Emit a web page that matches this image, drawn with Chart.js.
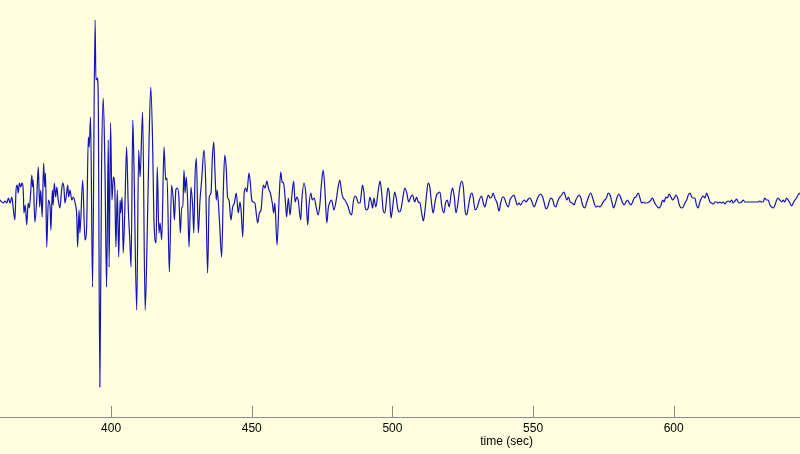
<!DOCTYPE html>
<html><head><meta charset="utf-8">
<script src="https://cdn.jsdelivr.net/npm/chart.js@4/dist/chart.umd.min.js"></script>
<style>html,body{margin:0;padding:0;background:#FFFFE0;}canvas{display:block}</style>
</head><body>
<canvas id="c" width="800" height="454"></canvas>
<script>
// [time (sec), amplitude]
const preEvent = [[360.5,0],[361.1,-2],[361.7,-3],[362.3,-1],[362.9,-3],[363.5,2],[364.1,-3],[364.7,3],[365.2,-8],[365.8,-20],[366.2,10],[366.6,15],[367.0,7],[367.4,17],[367.9,13],[368.3,17],[368.8,7],[369.0,-13],[369.5,-5],[370.0,-25],[370.5,-3],[370.9,-8],[371.4,7],[371.8,25],[372.1,13],[372.3,20],[372.9,-22],[373.5,-3],[374.1,33],[374.6,-7],[375.0,10],[375.5,-17],[376.0,37],[376.4,13],[376.7,27],[377.1,-47],[377.7,0],[378.3,-7],[378.6,-30],[379.1,10],[379.4,-5],[379.8,17],[380.3,3],[380.7,13],[381.2,0],[381.8,-8],[382.4,10],[382.8,17],[383.2,13],[383.6,-3],[384.2,7],[384.6,15],[384.9,3],[385.4,10],[386.0,0],[386.6,3],[387.2,-3],[387.8,-17],[388.1,-47],[388.6,-10]];
const mainShock = [[388.9,-33],[389.9,20],[390.7,-40],[391.3,-27],[391.9,63],[392.2,53],[392.7,83],[393.4,-87],[394.3,180],[394.6,120],[395.1,122],[395.4,107],[396.0,-187],[396.6,30],[397.2,102],[397.8,33],[398.4,-87],[399.0,60],[399.3,-67],[399.8,77],[400.3,0],[400.8,23],[401.3,13],[401.7,-47],[402.2,10],[402.7,-57],[403.2,0],[403.4,-13],[403.9,3],[404.3,-53],[404.9,-7],[405.5,53],[406.1,-7],[406.7,-43],[407.1,-67],[407.7,80],[408.1,37],[409.1,-110],[409.8,50],[410.3,23],[411.2,88],[412.1,-110],[412.6,-67],[413.5,60],[414.1,113],[414.8,50],[415.2,-17],[416.0,-43],[416.4,33]];
const earlyCoda = [[417.0,-33],[417.4,-23],[418.0,-40],[418.8,53],[419.4,20],[419.9,22],[420.7,-72],[421.5,15],[422.1,0],[422.5,-20],[423.0,10],[423.5,12],[424.1,3],[424.6,-33],[425.1,-7],[425.5,-7],[425.9,30],[426.3,7],[426.7,23],[427.2,0],[427.7,-47],[428.4,13],[429.0,-7],[429.4,-33],[429.8,20],[430.3,42],[431.0,-33],[431.6,0],[432.2,20],[433.0,50],[433.6,20],[434.3,-73],[434.9,3],[435.5,7],[436.0,43],[436.5,58],[436.9,30],[437.4,0],[437.7,10],[438.5,-20],[439.3,-57],[439.9,10],[440.4,45],[440.9,33],[441.4,3],[441.9,0],[442.6,-20],[443.2,-7],[443.8,-3],[444.5,7]];
const midCoda = [[445.2,-13],[445.8,-2],[446.2,-10],[446.8,-37],[447.3,7],[447.8,12],[448.3,8],[449.0,27],[449.5,17],[450.0,0],[450.5,-2],[451.1,-3],[452.1,-23],[452.7,-13],[453.3,-10],[454.1,15],[454.7,12],[455.4,19],[455.9,12],[456.6,7],[457.3,-3],[457.8,-13],[458.2,-3],[459.0,-45],[459.7,0],[460.3,28],[460.8,18],[461.3,17],[462.1,-7],[462.4,-17],[463.0,2],[463.6,-15],[464.2,3],[464.9,19],[465.4,-2],[466.0,3],[466.5,0],[467.4,-20],[467.8,0],[468.6,17],[469.2,7],[469.9,-25],[470.3,-7],[471.0,7],[471.5,0],[472.2,2],[472.9,-7],[473.6,-15],[474.2,-5],[474.8,17],[475.4,30],[476.0,10],[476.7,-23],[477.2,-8]];
const lateCoda = [[477.8,-2],[478.4,0],[479.2,-10],[480.2,3],[480.7,13],[481.3,20],[482.0,7],[482.5,2],[483.1,0],[483.7,-3],[484.3,-7],[484.9,-13],[485.5,-15],[486.1,-2],[486.7,4],[487.3,2],[487.9,-3],[488.5,-3],[489.1,10],[489.4,15],[489.9,7],[490.3,-7],[490.8,-10],[491.4,-8],[492.0,3],[492.5,-2],[493.0,-8],[493.4,2],[494.1,-7],[495.0,10],[495.6,19],[496.2,7],[496.7,-10],[497.3,-13],[498.0,3],[498.4,12],[498.9,7],[499.5,-18],[500.1,-7],[500.8,8],[501.3,3],[502.0,-10],[502.4,-12],[503.0,-10],[503.6,0],[504.4,12],[505.1,7],[505.8,-2],[506.5,3],[507.2,5],[507.9,-2],[508.6,3],[509.2,-2],[509.8,-3],[510.4,-13],[511.0,-21],[511.6,-10],[512.2,7],[512.7,17],[513.3,13],[513.9,-3],[514.5,-13],[515.1,-3],[515.7,5],[516.3,7],[516.9,8],[517.6,-7],[518.3,-13],[518.9,-3],[519.5,0],[520.2,-7],[520.9,7],[521.4,12],[522.0,3],[522.6,-13],[523.2,-5],[524.0,13],[524.7,19],[525.2,13],[525.9,-12],[526.4,-15],[527.0,-7],[527.6,3],[528.2,7],[528.7,3],[529.4,-10],[530.2,-7],[530.9,0]];
const tailA = [[531.7,4],[532.3,-3],[532.9,-7],[533.5,0],[534.1,5],[534.7,2],[535.3,3],[535.8,7],[536.4,2],[537.2,-3],[537.9,-11],[538.5,-3],[539.2,3],[539.8,2],[540.4,-3],[541.2,-7],[541.8,0],[542.4,3],[543.2,5],[543.8,0],[544.4,-5],[545.0,-3],[545.6,-5],[546.2,-2],[546.9,0],[547.5,-2],[548.3,1],[548.9,2],[549.5,-1],[550.4,-7],[551.0,-3],[551.8,3],[552.7,6],[553.4,3],[554.0,-3],[554.6,-9],[555.2,-7],[555.7,-2],[556.3,2],[557.0,0],[557.5,-5],[558.1,-7],[558.7,-2],[559.3,2],[560.2,5],[560.9,8],[561.4,5],[562.0,0],[562.6,3],[563.2,-2],[563.9,-3],[564.6,-5],[565.2,0],[565.8,3],[566.4,5],[567.0,2],[567.6,-5],[568.4,-8],[569.0,-3],[569.6,2],[570.5,7],[571.2,2],[571.7,-3],[572.3,-7],[573.2,-6],[573.8,-7],[574.4,-5],[574.9,-2],[575.5,0],[576.1,2],[576.7,7],[577.4,5],[578.1,-3],[578.6,-8],[579.1,-5],[579.8,2],[580.5,6],[581.1,3],[581.7,-2],[582.4,-5],[583.0,-2],[583.6,0],[584.2,-3],[584.8,-5],[585.4,-2],[586.0,2],[586.6,3],[587.4,7]];
const tailB = [[588.0,2],[588.6,-3],[589.2,-2],[589.8,-3],[590.5,-3],[591.2,-2],[591.9,0],[592.5,2],[593.1,-2],[593.7,-5],[594.3,-7],[594.8,-8],[595.5,-5],[596.1,0],[596.6,-2],[597.2,3],[597.8,2],[598.4,6],[599.0,3],[599.6,0],[600.2,2],[600.8,5],[601.4,2],[602.0,-5],[602.8,-8],[603.4,-7],[604.0,-3],[604.6,0],[605.2,5],[605.8,7],[606.4,3],[606.9,2],[607.5,2],[608.1,-5],[608.7,-8],[609.3,-2],[609.9,2],[610.5,4],[611.1,2],[611.7,7],[612.3,3],[612.9,-2],[613.5,-3],[614.2,-4],[614.6,-2],[615.2,-2],[615.8,-3],[616.4,-2],[617.0,-3],[617.6,-2],[618.2,-4],[618.8,-2],[619.4,-1],[620.0,-2],[620.6,0],[621.1,-3],[621.8,-1],[622.4,1],[622.9,-2],[623.5,-3],[624.1,-2],[624.7,0],[625.3,-2],[625.9,-2],[626.5,-2],[627.7,-2],[628.9,-2],[630.0,-2],[630.6,-1],[631.2,-2],[631.8,-2],[632.4,2],[633.0,0],[633.6,0],[634.2,-5],[634.8,-7],[635.4,-8],[636.0,-5],[636.6,0],[637.1,2],[637.7,0],[638.4,-2],[638.9,0],[639.5,-2],[640.1,2],[640.7,0],[641.3,-3],[641.9,-6],[642.5,-3],[643.1,0],[643.7,2],[644.2,5],[644.9,7]];

const tickValues = [400, 450, 500, 550, 600];
const xLimits = [360.5, 644.9];
const yLimits = [-217, 200];
const axisTitle = 'time (sec)';
const titleAt = 540.6;

const trace = [].concat(preEvent, mainShock, earlyCoda, midCoda, lateCoda, tailA, tailB)
  .map(p => ({x: p[0], y: p[1]}));

const BG = '#FFFFE0';
const bgPlugin = {
  id: 'bg',
  beforeDraw(chart) {
    const ctx = chart.ctx;
    ctx.save(); ctx.fillStyle = BG; ctx.fillRect(0, 0, chart.width, chart.height); ctx.restore();
  }
};
const axisDeco = {
  id: 'axisDeco',
  afterDraw(chart) {
    const xs = chart.scales.x, ctx = chart.ctx, yb = chart.chartArea.bottom;
    ctx.save();
    ctx.strokeStyle = '#8c8c8c'; ctx.lineWidth = 1;
    ctx.beginPath();
    tickValues.forEach(v => {
      const px = Math.round(xs.getPixelForValue(v)) + 0.5;
      ctx.moveTo(px, yb); ctx.lineTo(px, yb - 11);
    });
    ctx.stroke();
    ctx.fillStyle = '#000';
    ctx.font = '12px "Liberation Sans", Arial, sans-serif';
    ctx.textAlign = 'center'; ctx.textBaseline = 'middle';
    ctx.fillText(axisTitle, xs.getPixelForValue(titleAt), 442);
    ctx.restore();
  }
};

Chart.defaults.font.family = '"Liberation Sans", Arial, sans-serif';
new Chart(document.getElementById('c'), {
  type: 'line',
  data: { datasets: [{
    data: trace,
    borderColor: '#1414B4',
    borderWidth: 1.2,
    pointRadius: 0,
    cubicInterpolationMode: 'monotone',
    fill: false
  }]},
  options: {
    responsive: false,
    animation: false,
    events: [],
    layout: { padding: 0 },
    plugins: { legend: { display: false }, tooltip: { enabled: false }, title: { display: false } },
    scales: {
      x: {
        type: 'linear',
        min: xLimits[0], max: xLimits[1],
        afterBuildTicks: s => { s.ticks = tickValues.map(v => ({value: v})); },
        afterFit: s => { s.height = 37; },
        grid: { display: false, drawTicks: false },
        border: { display: true, color: '#8c8c8c', width: 1 },
        ticks: { color: '#000', font: { size: 12 }, padding: 4, maxRotation: 0, autoSkip: false }
      },
      y: {
        display: false,
        min: yLimits[0], max: yLimits[1]
      }
    }
  },
  plugins: [bgPlugin, axisDeco]
});
</script>
</body></html>
